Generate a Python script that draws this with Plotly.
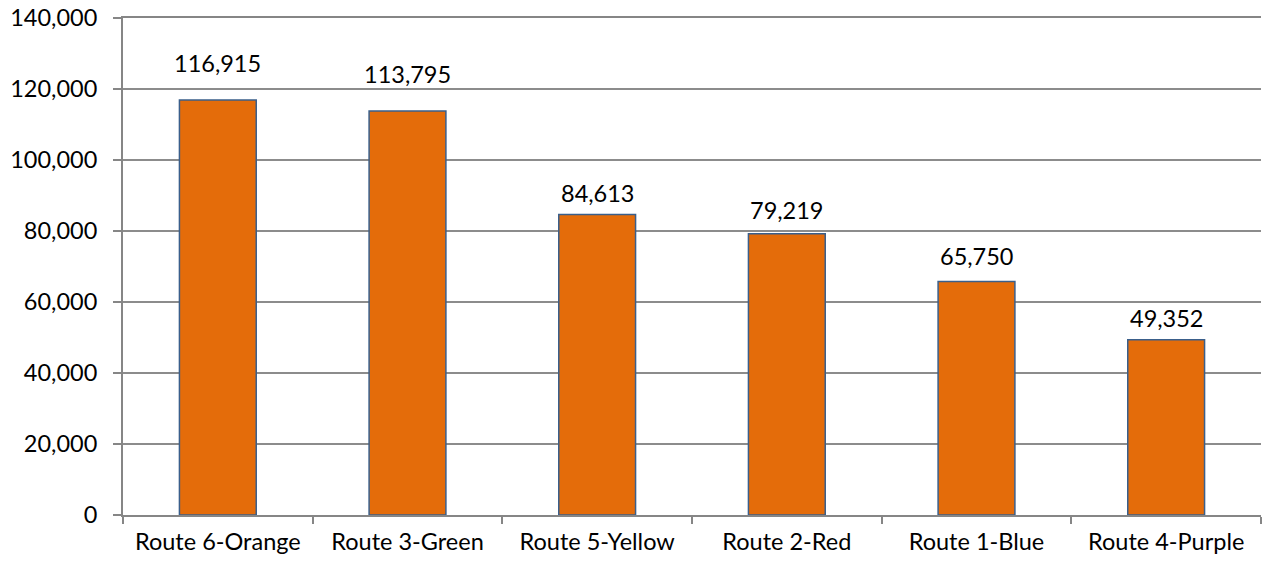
import plotly.graph_objects as go

categories = ["Route 6-Orange", "Route 3-Green", "Route 5-Yellow", "Route 2-Red", "Route 1-Blue", "Route 4-Purple"]
values = [116915, 113795, 84613, 79219, 65750, 49352]
y_ticks = [0, 20000, 40000, 60000, 80000, 100000, 120000, 140000]

# pixel offsets of the value labels above the bars (styling only)
label_shift = [21, 21, 6, 8, 10, 6]

FONT = "Lato, Open Sans, sans-serif"
FS = 23.5

fig = go.Figure(go.Bar(
    x=categories, y=values,
    marker=dict(color="#E46C0A", line=dict(color="#3A5F8B", width=1.5)),
    width=0.405,
    hoverinfo="skip",
))

for cat, v, s in zip(categories, values, label_shift):
    fig.add_annotation(
        x=cat, y=v, text=f"{v:,}", showarrow=False,
        yanchor="bottom", yshift=s,
        font=dict(size=FS, color="#000000", family=FONT),
    )

fig.update_layout(
    width=1262, height=563,
    margin=dict(l=123, r=1, t=18, b=48),
    plot_bgcolor="white", paper_bgcolor="white",
    font=dict(family=FONT, size=FS, color="#000000"),
    showlegend=False,
    xaxis=dict(
        automargin=False, mirror=True,
        showline=True, linecolor="#868686", linewidth=2,
        ticks="outside", tickson="boundaries", ticklen=7, tickcolor="#868686", tickwidth=2,
        showgrid=False, tickfont=dict(size=FS), ticklabelstandoff=5,
    ),
    yaxis=dict(
        automargin=False,
        range=[0, 140000], tickvals=y_ticks, tickformat=",",
        showline=True, linecolor="#868686", linewidth=2,
        ticks="outside", ticklen=8, tickcolor="#868686", tickwidth=2,
        showgrid=True, gridcolor="#8C8C8C", gridwidth=2,
        zeroline=False, tickfont=dict(size=FS), ticklabelstandoff=11,
        ticklabeloverflow="allow",
    ),
)

# remove the default page margin so the figure fills the window exactly
fig.write_html(
    "out.html",
    config={"displayModeBar": False},
    post_script="document.body.style.margin='0';document.body.style.overflow='hidden';",
)
